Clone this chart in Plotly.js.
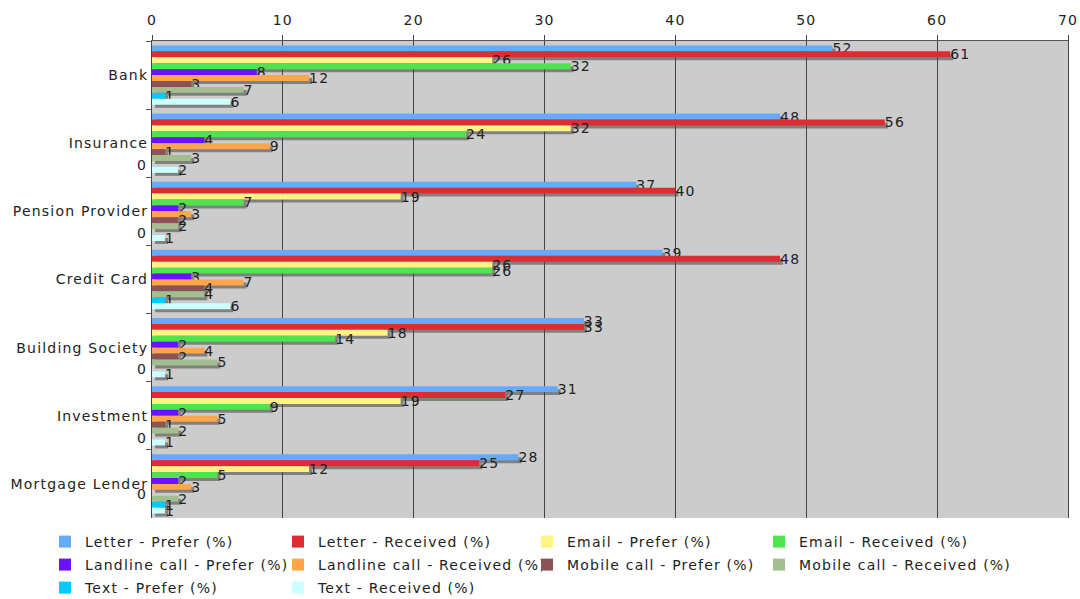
<!DOCTYPE html>
<html>
<head>
<meta charset="utf-8">
<script src="https://cdn.plot.ly/plotly-3.0.1.min.js"></script>
<style>html,body{margin:0;padding:0;background:#fff;}#chart{width:1080px;height:599px;} text{letter-spacing:1.2px;}</style>
</head>
<body>
<div id="chart"></div>
<script>
const categories = ["Bank", "Insurance", "Pension Provider", "Credit Card", "Building Society", "Investment", "Mortgage Lender"];
const seriesNames = ["Letter - Prefer (%)", "Letter - Received (%)", "Email - Prefer (%)", "Email - Received (%)",
  "Landline call - Prefer (%)", "Landline call - Received (%)", "Mobile call - Prefer (%)", "Mobile call - Received (%)",
  "Text - Prefer (%)", "Text - Received (%)"];
const letterPrefer    = [52, 48, 37, 39, 33, 31, 28];
const letterReceived  = [61, 56, 40, 48, 33, 27, 25];
const emailPrefer     = [26, 32, 19, 26, 18, 19, 12];
const emailReceived   = [32, 24, 7, 26, 14, 9, 5];
const landlinePrefer  = [8, 4, 2, 3, 2, 2, 2];
const landlineReceived= [12, 9, 3, 7, 4, 5, 3];
const mobilePrefer    = [3, 1, 2, 4, 2, 1, 0];
const mobileReceived  = [7, 3, 2, 4, 5, 2, 2];
const textPrefer      = [1, 0, 0, 1, 0, 0, 1];
const textReceived    = [6, 2, 1, 6, 1, 1, 1];
const xTickValues = [0, 10, 20, 30, 40, 50, 60, 70];

const seriesValues = [letterPrefer, letterReceived, emailPrefer, emailReceived, landlinePrefer, landlineReceived,
  mobilePrefer, mobileReceived, textPrefer, textReceived];
const colors = ["#66aaff", "#dd2d33", "#fff385", "#50e350", "#6a12ff", "#ffa64a", "#8b5356", "#a3bf90", "#00ccff", "#ccffff"];

const FONT = "DejaVu Sans, Verdana, sans-serif";
const FS = 14;
const bargap = 0.13;
const W = 1080, H = 599;
const mL = 152, mR = 9, mT = 41, mB = 78;
const pw = W - mL - mR, ph = H - mT - mB;
const sx = 3, sy = 3;

function legendId(i) { return i === 0 ? 'legend' : 'legend' + (i + 1); }

const traces = [];
// shadows
seriesValues.forEach((vals, i) => {
  traces.push({type: 'bar', orientation: 'h', x: vals, y: categories, xaxis: 'x', yaxis: 'y',
    marker: {color: '#808080', line: {width: 0}}, showlegend: false, hoverinfo: 'skip'});
});
// real bars
seriesValues.forEach((vals, i) => {
  traces.push({type: 'bar', orientation: 'h', x: vals, y: categories, xaxis: 'x2', yaxis: 'y2',
    name: seriesNames[i], legend: legendId(i),
    marker: {color: colors[i], line: {width: 0}},
    text: vals.map(v => v === 0 ? '' : String(v)), textposition: 'outside', constraintext: 'none',
    cliponaxis: false, textfont: {family: FONT, size: FS, color: '#222'}});
});

const annotations = [];
const n = seriesValues.length;
const bw = (1 - bargap) / n;
seriesValues.forEach((vals, i) => {
  vals.forEach((v, c) => {
    if (v === 0) {
      annotations.push({xref: 'x2', yref: 'y2', x: 0, y: c - (1 - bargap) / 2 + bw * (i + 0.5),
        text: '0', showarrow: false, xanchor: 'right', xshift: -3, yshift: -1,
        font: {family: FONT, size: FS, color: '#222'}});
    }
  });
});

const yRange = [categories.length - 0.5, -0.5];

const layout = {
  width: W, height: H,
  margin: {l: mL, r: mR, t: mT, b: mB, pad: 0, autoexpand: false},
  paper_bgcolor: '#ffffff', plot_bgcolor: 'rgba(0,0,0,0)',
  barmode: 'group', bargap: bargap, bargroupgap: 0,
  font: {family: FONT, size: FS, color: '#222'},
  xaxis: {domain: [sx / pw, 1], range: [0, 70], anchor: 'y', visible: false, fixedrange: true},
  yaxis: {domain: [0, 1 - sy / ph], range: yRange, type: 'category', anchor: 'x', visible: false, fixedrange: true},
  xaxis2: {domain: [0, 1 - sx / pw], range: [0, 70], anchor: 'y2', side: 'top', tickvals: xTickValues,
    showgrid: true, gridcolor: '#444', gridwidth: 1, zeroline: false,
    showline: true, linecolor: '#555', linewidth: 1, ticks: 'outside', ticklen: 5, tickcolor: '#444',
    ticklabelstandoff: 4, automargin: false,
    tickfont: {family: FONT, size: FS, color: '#222'}, fixedrange: true},
  yaxis2: {domain: [sy / ph, 1], range: yRange, type: 'category', anchor: 'x2',
    showgrid: false, zeroline: false, showline: true, mirror: true, linecolor: '#444', linewidth: 1,
    ticks: 'outside', tickson: 'boundaries', ticklen: 5, tickcolor: '#555', automargin: false,
    tickfont: {family: FONT, size: FS, color: '#222'}, fixedrange: true},
  shapes: [{type: 'rect', xref: 'paper', yref: 'paper', x0: 0, x1: 1 - sx / pw, y0: sy / ph, y1: 1,
    fillcolor: '#cccccc', line: {width: 0}, layer: 'below'}],
  annotations: annotations,
  showlegend: true
};

// legend placement (layout only): 4 columns x 3 rows, one legend per entry
const legendTextX = [83, 316, 565, 797];
const legendRowY = [542, 565, 588];
seriesNames.forEach((nm, i) => {
  const col = i % 4, row = Math.floor(i / 4);
  const leftPx = legendTextX[col] - 38;
  const cyPx = legendRowY[row];
  layout[legendId(i)] = {orientation: 'h', xanchor: 'left', yanchor: 'middle',
    x: (leftPx - mL) / pw, y: (H - mB - cyPx) / ph,
    font: {family: FONT, size: FS, color: '#222'}, bgcolor: 'rgba(0,0,0,0)', itemclick: false};
});

Plotly.newPlot('chart', traces, layout, {displayModeBar: false, staticPlot: true});
</script>
</body>
</html>
